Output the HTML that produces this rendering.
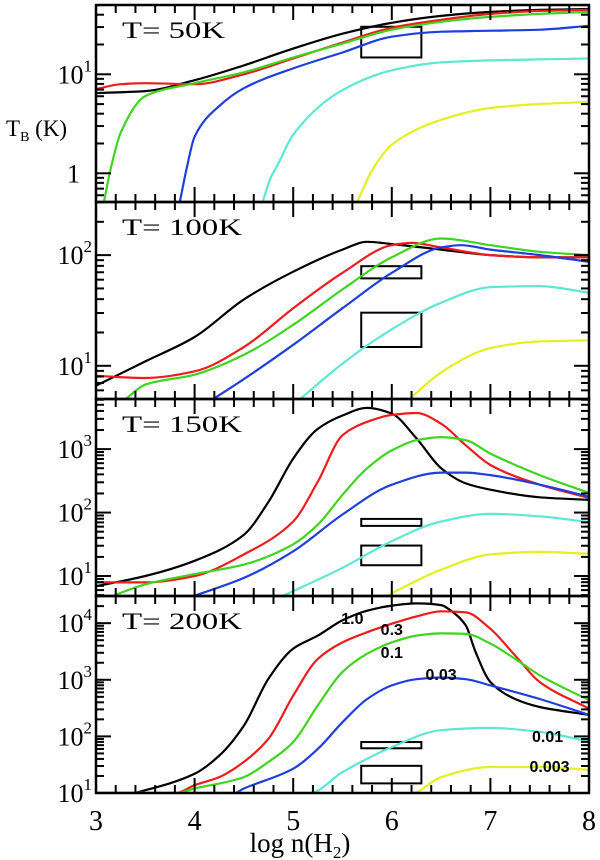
<!DOCTYPE html>
<html><head><meta charset="utf-8"><style>
html,body{margin:0;padding:0;background:#fff;}
svg{display:block;font-family:"Liberation Sans",sans-serif;}
</style></head>
<body>
<svg id="chart" width="600" height="860" viewBox="0 0 600 860" xmlns="http://www.w3.org/2000/svg">
<text x="6" y="136" font-size="23" font-family="Liberation Serif, serif">T<tspan font-size="14" dy="5">B</tspan><tspan dy="-5"> (K)</tspan></text>
<text x="300" y="852" font-size="27" text-anchor="middle" font-family="Liberation Serif, serif">log n(H<tspan font-size="17" dy="6">2</tspan><tspan dy="-6">)</tspan></text>
</svg>
<script>
// x axis
const xTicks = [3,4,5,6,7,8];
// panel temperatures and log-range
const panelTitles = ["T= 50K","T= 100K","T= 150K","T= 200K"];
const panelLogMin = [-0.29, 0.70, 0.685, 1.0];
const panelLogMax = [1.70, 2.48, 3.79, 4.48];
const panelTickLabels = [[0,1],[1,2],[1,2,3],[1,2,3,4]];
const seriesNames = ["1.0","0.3","0.1","0.03","0.01","0.003"];
const seriesColors = ["#000000","#ee1c1c","#3fd41f","#1f3fdc","#5ee8d4","#e4f020"];
// observation boxes (log n range, log TB range)
const boxLogN = [5.69, 6.30];
const boxBig = [1.17, 1.48];
const boxSmall = [1.79, 1.90];

// T=50K
const t50_x_black=[3,3.5,4,4.5,5,5.5,6,6.5,7,7.5,8];
const t50_y_black=[0.81,0.83,0.94,1.09,1.26,1.41,1.52,1.59,1.63,1.65,1.66];
const t50_x_red=[3,3.25,3.5,4,4.5,5,5.5,6,6.5,7,7.5,8];
const t50_y_red=[0.85,0.90,0.91,0.90,1.00,1.16,1.32,1.47,1.55,1.61,1.64,1.65];
const t50_x_green=[3.08,3.15,3.25,3.5,4,4.5,5,5.5,6,6.5,7,7.5,8];
const t50_y_green=[-0.29,0.05,0.41,0.78,0.91,1.02,1.17,1.31,1.45,1.53,1.58,1.61,1.63];
const t50_x_blue=[3.85,3.92,4,4.25,4.5,5,5.5,6,6.5,7,7.5,8];
const t50_y_blue=[-0.29,0.05,0.37,0.68,0.86,1.06,1.22,1.38,1.43,1.44,1.45,1.49];
const t50_x_cyan=[4.69,4.77,4.85,5,5.5,6,6.5,7,7.5,8];
const t50_y_cyan=[-0.29,-0.05,0.10,0.39,0.84,1.04,1.12,1.14,1.15,1.16];
const t50_x_yellow=[5.65,5.8,6,6.5,7,7.5,8];
const t50_y_yellow=[-0.29,0.03,0.29,0.54,0.66,0.70,0.72];
// T=100K
const t100_x_black=[3,3.5,4,4.5,5,5.5,5.75,6,6.5,7,7.5,8];
const t100_y_black=[0.82,1.04,1.26,1.60,1.85,2.05,2.12,2.10,2.05,2.00,1.98,1.98];
const t100_x_red=[3,3.5,4,4.5,5,5.5,6,6.2,6.5,7,7.5,8];
const t100_y_red=[0.91,0.89,0.95,1.17,1.52,1.84,2.09,2.11,2.07,2.00,1.98,1.98];
const t100_x_green=[3.3,3.5,4,4.5,5,5.5,6,6.5,7,7.5,8];
const t100_y_green=[0.70,0.83,0.92,1.10,1.37,1.69,1.98,2.15,2.09,2.03,2.00];
const t100_x_blue=[4.19,4.5,5,5.5,6,6.5,6.7,7,7.5,8];
const t100_y_blue=[0.70,0.88,1.19,1.52,1.84,2.07,2.09,2.05,2.00,1.94];
const t100_x_cyan=[5.07,5.5,6,6.5,7,7.5,8];
const t100_y_cyan=[0.70,1.02,1.33,1.57,1.71,1.72,1.66];
const t100_x_yellow=[6.18,6.5,7,7.5,8];
const t100_y_yellow=[0.70,0.94,1.16,1.22,1.23];
// T=150K
const t150_x_black=[3,3.5,4,4.5,4.75,5,5.25,5.5,5.75,6,6.25,6.5,6.75,7,7.5,8];
const t150_y_black=[0.84,1.00,1.24,1.65,2.17,2.85,3.32,3.53,3.65,3.56,3.17,2.70,2.46,2.36,2.24,2.20];
const t150_x_red=[3,3.5,4,4.5,5,5.25,5.5,5.75,6,6.25,6.5,6.75,7,7.5,8];
const t150_y_red=[0.90,0.90,1.00,1.34,1.86,2.49,3.22,3.43,3.54,3.57,3.40,3.06,2.75,2.44,2.23];
const t150_x_green=[3.19,3.5,4,4.5,5,5.25,5.5,5.75,6,6.25,6.5,6.75,7,7.5,8];
const t150_y_green=[0.70,0.87,1.03,1.18,1.50,1.81,2.28,2.70,2.98,3.14,3.19,3.14,2.93,2.59,2.31];
const t150_x_blue=[4,4.5,5,5.5,6,6.5,6.75,7,7.5,8];
const t150_y_blue=[0.69,0.97,1.39,1.97,2.44,2.63,2.63,2.59,2.44,2.25];
const t150_x_cyan=[4.9,5.5,6,6.5,7,7.5,8];
const t150_y_cyan=[0.69,1.13,1.55,1.86,1.98,1.94,1.85];
const t150_x_yellow=[5.95,6.5,7,7.5,8];
const t150_y_yellow=[0.69,1.10,1.34,1.38,1.35];
// T=200K
const t200_x_black=[3,3.37,3.5,4,4.25,4.5,4.75,5,5.25,5.5,5.75,6,6.25,6.5,6.6,6.75,6.85,7,7.25,7.5,8];
const t200_y_black=[1.0,1.0,1.05,1.34,1.66,2.19,3.02,3.55,3.78,4.05,4.22,4.31,4.35,4.32,4.22,3.96,3.49,2.96,2.66,2.52,2.38];
const t200_x_red=[3,3.81,4,4.25,4.5,4.75,5,5.25,5.5,5.75,6,6.25,6.5,6.75,7,7.25,7.5,8];
const t200_y_red=[1.0,1.0,1.14,1.28,1.55,1.96,2.72,3.37,3.66,3.84,3.99,4.12,4.21,4.19,3.90,3.43,2.96,2.49];
const t200_x_green=[3,3.81,4,4.5,4.75,5,5.25,5.5,5.75,6,6.25,6.5,6.75,7,7.25,7.5,8];
const t200_y_green=[1.0,1.0,1.08,1.28,1.55,1.90,2.55,3.14,3.46,3.66,3.78,3.82,3.81,3.64,3.37,3.08,2.64];
const t200_x_blue=[3,4.4,4.5,5,5.25,5.5,5.75,6,6.25,6.5,6.75,7,7.5,8];
const t200_y_blue=[1.0,1.0,1.08,1.43,1.78,2.25,2.66,2.90,3.01,3.04,3.01,2.90,2.66,2.38];
const t200_x_cyan=[3,5.17,5.5,6,6.5,7,7.5,8];
const t200_y_cyan=[1.0,1.0,1.37,1.81,2.11,2.15,2.08,1.91];
const t200_x_yellow=[3,6.2,6.5,7,7.5,8];
const t200_y_yellow=[1.0,1.0,1.28,1.46,1.46,1.41];

const panelXs=[[t50_x_black,t50_x_red,t50_x_green,t50_x_blue,t50_x_cyan,t50_x_yellow],
 [t100_x_black,t100_x_red,t100_x_green,t100_x_blue,t100_x_cyan,t100_x_yellow],
 [t150_x_black,t150_x_red,t150_x_green,t150_x_blue,t150_x_cyan,t150_x_yellow],
 [t200_x_black,t200_x_red,t200_x_green,t200_x_blue,t200_x_cyan,t200_x_yellow]];
const panelYs=[[t50_y_black,t50_y_red,t50_y_green,t50_y_blue,t50_y_cyan,t50_y_yellow],
 [t100_y_black,t100_y_red,t100_y_green,t100_y_blue,t100_y_cyan,t100_y_yellow],
 [t150_y_black,t150_y_red,t150_y_green,t150_y_blue,t150_y_cyan,t150_y_yellow],
 [t200_y_black,t200_y_red,t200_y_green,t200_y_blue,t200_y_cyan,t200_y_yellow]];
// curve labels in the 200K panel: [log n, log TB]
const labelX=[5.6,6.0,6.0,6.5,7.58,7.6];
const labelY=[4.09,3.90,3.49,3.10,2.01,1.48];

const NS="http://www.w3.org/2000/svg";
const svg=document.getElementById('chart');
const L=96,R=589,TOP=5,PH=197;
const sx=v=>L+(v-3)/(8-3)*(R-L);
function mk(tag,attrs,parent){const e=document.createElementNS(NS,tag);for(const k in attrs)e.setAttribute(k,attrs[k]);(parent||svg).appendChild(e);return e;}
function smooth(pts){const n=pts.length;if(n<2)return "";
 const dx=[],sl=[];for(let i=0;i<n-1;i++){dx.push(pts[i+1][0]-pts[i][0]);sl.push((pts[i+1][1]-pts[i][1])/dx[i]);}
 const m=new Array(n);m[0]=sl[0];m[n-1]=sl[n-2];
 for(let i=1;i<n-1;i++){if(sl[i-1]*sl[i]<=0)m[i]=0;else{const w1=2*dx[i]+dx[i-1],w2=dx[i]+2*dx[i-1];m[i]=(w1+w2)/(w1/sl[i-1]+w2/sl[i]);}}
 let d="M"+pts[0][0].toFixed(1)+","+pts[0][1].toFixed(1);
 for(let i=0;i<n-1;i++){const h=dx[i]/3;
  d+=" C"+(pts[i][0]+h).toFixed(1)+","+(pts[i][1]+m[i]*h).toFixed(1)+" "+(pts[i+1][0]-h).toFixed(1)+","+(pts[i+1][1]-m[i+1]*h).toFixed(1)+" "+pts[i+1][0].toFixed(1)+","+pts[i+1][1].toFixed(1);}
 return d;}
const defs=mk('defs',{});
for(let p=0;p<4;p++){
 const top=TOP+p*PH,bot=top+PH,lo=panelLogMin[p],hi=panelLogMax[p];
 const sy=v=>bot-(v-lo)/(hi-lo)*PH;
 const g=mk('g',{});
 
 
 const cp=mk('clipPath',{id:'cp'+p},defs);
 mk('rect',{x:L,y:top,width:R-L,height:PH},cp);
 const cg=mk('g',{'clip-path':'url(#cp'+p+')'},g);
 const boxes=p===0?[boxBig]:[boxSmall,boxBig];
 boxes.forEach((b,i)=>{const r=mk('rect',{x:sx(boxLogN[0]),y:sy(b[1]),width:sx(boxLogN[1])-sx(boxLogN[0]),height:sy(b[0])-sy(b[1]),fill:'none',stroke:'#000','stroke-width':2},cg);
  
  });
 for(let s=0;s<6;s++){const xs=panelXs[p][s],ys=panelYs[p][s];
  const pts=xs.map((x,i)=>[sx(x),sy(ys[i])]);
  const path=mk('path',{d:smooth(pts),fill:'none',stroke:seriesColors[s],'stroke-width':2.2},cg);
  
  }
 const fr=mk('rect',{x:L,y:top,width:R-L,height:PH,fill:'none',stroke:'#000','stroke-width':2.5},g);
 
 
 for(let v=3;v<=8.001;v+=0.2){const X=sx(v),maj=Math.abs(v-Math.round(v))<0.01,len=maj?15:8;
  mk('line',{x1:X,y1:top,x2:X,y2:top+len,stroke:'#000','stroke-width':2},g);
  mk('line',{x1:X,y1:bot,x2:X,y2:bot-len,stroke:'#000','stroke-width':2},g);}
 for(let d=Math.floor(lo);d<=Math.ceil(hi);d++){for(let m=1;m<10;m++){const v=d+Math.log10(m);if(v<lo-0.001||v>hi+0.001)continue;
  const Y=sy(v),len=m===1?15:8;
  mk('line',{x1:L,y1:Y,x2:L+len,y2:Y,stroke:'#000','stroke-width':2},g);
  mk('line',{x1:R,y1:Y,x2:R-len,y2:Y,stroke:'#000','stroke-width':2},g);}}
 panelTickLabels[p].forEach(e=>{const t=mk('text',{x:80,y:sy(e)+9,'font-size':26,'text-anchor':'end','font-family':'Liberation Serif, serif'},g);
  
  
  if(e===0){t.textContent='1';}else{t.textContent='10';const sp=mk('tspan',{'font-size':17,dy:-12},t);sp.textContent=String(e);
   t.setAttribute('x',92);}});
 const tt=mk('text',{x:122,y:top+33,'font-size':23,'font-family':'Liberation Serif, serif',textLength:panelTitles[p].length>6?120:103,lengthAdjust:'spacingAndGlyphs'},g);
 tt.textContent=panelTitles[p];
 
 
 if(p===3){labelX.forEach((x,i)=>{const t=mk('text',{x:sx(x),y:sy(labelY[i])+6,'font-size':16,'font-weight':'bold','text-anchor':'middle'},g);
  t.textContent=seriesNames[i];
  
  });}
}
xTicks.forEach(v=>{const t=mk('text',{x:sx(v),y:830,'font-size':28,'text-anchor':'middle','font-family':'Liberation Serif, serif'});
 t.textContent=String(v);
 
 });
</script>
</body></html>
